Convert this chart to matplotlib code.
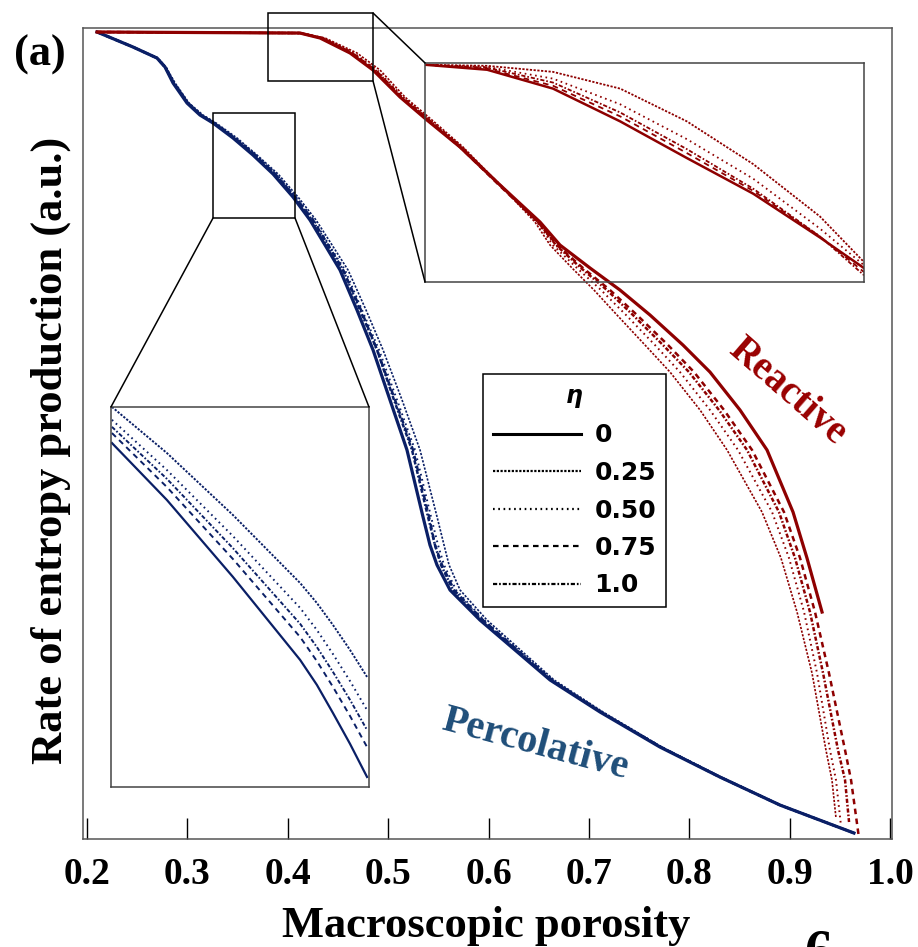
import matplotlib
matplotlib.use('Agg')
import matplotlib.pyplot as plt
from matplotlib.lines import Line2D
from matplotlib.patches import Rectangle, ConnectionPatch

plt.rcParams['font.family'] = ['Liberation Serif', 'DejaVu Serif']
plt.rcParams['font.weight'] = 'bold'
plt.rcParams['lines.scale_dashes'] = False

# ---- data ----
eta_labels = ['0', '0.25', '0.50', '0.75', '1.0']
x_ticks = [0.2, 0.3, 0.4, 0.5, 0.6, 0.7, 0.8, 0.9, 1.0]

# percolative (blue): shared y levels, one x list per eta
blue_y = [0.9951, 0.9766, 0.9630, 0.9519, 0.9322, 0.9075, 0.8927, 0.8829, 0.8644, 0.8434,
          0.8200, 0.7916, 0.7633, 0.7324, 0.7016, 0.6523, 0.6030, 0.5413, 0.4797, 0.3970,
          0.3625, 0.3379, 0.3070, 0.2700, 0.1961, 0.1566, 0.1134, 0.0764, 0.0419, 0.0074]
blue_x_000 = [0.2100, 0.2458, 0.2697, 0.2777, 0.2857, 0.2996, 0.3125, 0.3255, 0.3454, 0.3653,
              0.3853, 0.4052, 0.4221, 0.4371, 0.4520, 0.4689, 0.4849, 0.5018, 0.5187, 0.5347,
              0.5416, 0.5486, 0.5616, 0.5914, 0.6612, 0.7110, 0.7707, 0.8305, 0.8902, 0.9639]
blue_x_025 = [0.2100, 0.2458, 0.2707, 0.2787, 0.2877, 0.3016, 0.3155, 0.3285, 0.3494, 0.3693,
              0.3903, 0.4102, 0.4281, 0.4441, 0.4600, 0.4779, 0.4949, 0.5138, 0.5317, 0.5487,
              0.5556, 0.5606, 0.5716, 0.5984, 0.6652, 0.7140, 0.7727, 0.8315, 0.8912, 0.9639]
blue_x_050 = [0.2100, 0.2458, 0.2697, 0.2787, 0.2867, 0.3006, 0.3145, 0.3275, 0.3474, 0.3683,
              0.3883, 0.4082, 0.4261, 0.4411, 0.4570, 0.4739, 0.4909, 0.5088, 0.5267, 0.5427,
              0.5496, 0.5556, 0.5676, 0.5954, 0.6632, 0.7130, 0.7717, 0.8315, 0.8902, 0.9639]
blue_x_075 = [0.2100, 0.2458, 0.2697, 0.2777, 0.2867, 0.3006, 0.3135, 0.3265, 0.3474, 0.3673,
              0.3873, 0.4072, 0.4251, 0.4401, 0.4550, 0.4729, 0.4889, 0.5068, 0.5247, 0.5407,
              0.5466, 0.5536, 0.5656, 0.5944, 0.6632, 0.7120, 0.7717, 0.8305, 0.8902, 0.9639]
blue_x_100 = [0.2100, 0.2458, 0.2697, 0.2777, 0.2867, 0.3006, 0.3135, 0.3265, 0.3464, 0.3673,
              0.3873, 0.4072, 0.4241, 0.4401, 0.4550, 0.4719, 0.4889, 0.5058, 0.5237, 0.5397,
              0.5466, 0.5526, 0.5646, 0.5934, 0.6622, 0.7120, 0.7717, 0.8305, 0.8902, 0.9639]

# reactive (red)
red_y_000 = [0.9951, 0.9938, 0.9877, 0.9692, 0.9482, 0.9149, 0.8866, 0.8533, 0.8064, 0.7608,
             0.7324, 0.7041, 0.6769, 0.6461, 0.6091, 0.5758, 0.5290, 0.4797, 0.4032, 0.3465,
             0.2799]
red_x_000 = [0.2100, 0.4122, 0.4321, 0.4620, 0.4849, 0.5118, 0.5386, 0.5715, 0.6114, 0.6512,
             0.6711, 0.7010, 0.7309, 0.7608, 0.7936, 0.8205, 0.8504, 0.8773, 0.9032, 0.9171,
             0.9321]
red_y_025 = [0.9951, 0.9938, 0.9877, 0.9692, 0.9482, 0.9149, 0.8866, 0.8533, 0.8064, 0.7608,
             0.7324, 0.7041, 0.6769, 0.6461, 0.6091, 0.5758, 0.5290, 0.4797, 0.4032, 0.3465,
             0.2799, 0.2047, 0.1097, 0.0727, 0.0259]
red_x_025 = [0.2100, 0.4122, 0.4371, 0.4689, 0.4918, 0.5167, 0.5436, 0.5745, 0.6114, 0.6462,
             0.6612, 0.6831, 0.7050, 0.7279, 0.7558, 0.7807, 0.8106, 0.8375, 0.8723, 0.8912,
             0.9072, 0.9221, 0.9360, 0.9420, 0.9460]
red_y_050 = [0.9951, 0.9938, 0.9877, 0.9692, 0.9482, 0.9149, 0.8866, 0.8533, 0.8064, 0.7608,
             0.7324, 0.7041, 0.6769, 0.6461, 0.6091, 0.5758, 0.5290, 0.4797, 0.4032, 0.3465,
             0.2799, 0.2047, 0.1097, 0.0727, 0.0160]
red_x_050 = [0.2100, 0.4122, 0.4351, 0.4659, 0.4888, 0.5147, 0.5416, 0.5735, 0.6114, 0.6482,
             0.6641, 0.6880, 0.7120, 0.7369, 0.7657, 0.7906, 0.8205, 0.8484, 0.8823, 0.8992,
             0.9142, 0.9271, 0.9400, 0.9460, 0.9510]
red_y_075 = [0.9951, 0.9938, 0.9877, 0.9692, 0.9482, 0.9149, 0.8866, 0.8533, 0.8064, 0.7608,
             0.7324, 0.7041, 0.6769, 0.6461, 0.6091, 0.5758, 0.5290, 0.4797, 0.4032, 0.3465,
             0.2799, 0.2047, 0.1097, 0.0727, 0.0012]
red_x_075 = [0.2100, 0.4122, 0.4341, 0.4639, 0.4869, 0.5127, 0.5396, 0.5715, 0.6104, 0.6492,
             0.6681, 0.6940, 0.7209, 0.7478, 0.7787, 0.8046, 0.8345, 0.8624, 0.8942, 0.9102,
             0.9251, 0.9390, 0.9550, 0.9610, 0.9689]
red_y_100 = [0.9951, 0.9938, 0.9877, 0.9692, 0.9482, 0.9149, 0.8866, 0.8533, 0.8064, 0.7608,
             0.7324, 0.7041, 0.6769, 0.6461, 0.6091, 0.5758, 0.5290, 0.4797, 0.4032, 0.3465,
             0.2799, 0.2047, 0.1097, 0.0727, 0.0210]
red_x_100 = [0.2100, 0.4122, 0.4341, 0.4639, 0.4869, 0.5137, 0.5406, 0.5725, 0.6114, 0.6492,
             0.6671, 0.6920, 0.7179, 0.7438, 0.7737, 0.7996, 0.8295, 0.8574, 0.8892, 0.9052,
             0.9201, 0.9331, 0.9480, 0.9550, 0.9590]

# blue inset (zoom of the percolative curves)
binset_x = [0.3258, 0.3432, 0.3641, 0.3854, 0.3907, 0.3958, 0.4012, 0.4066]
binset_y_000 = [0.8829, 0.8635, 0.8373, 0.8090, 0.8005, 0.7909, 0.7804, 0.7691]
binset_y_025 = [0.8952, 0.8795, 0.8584, 0.8352, 0.8284, 0.8209, 0.8124, 0.8032]
binset_y_050 = [0.8908, 0.8737, 0.8512, 0.8267, 0.8192, 0.8110, 0.8018, 0.7919]
binset_y_075 = [0.8863, 0.8679, 0.8434, 0.8168, 0.8086, 0.7998, 0.7899, 0.7793]
binset_y_100 = [0.8884, 0.8707, 0.8471, 0.8213, 0.8134, 0.8049, 0.7954, 0.7851]

# red inset (zoom of the reactive curves near the onset)
rinset_x = [0.3803, 0.3951, 0.4108, 0.4268, 0.4427, 0.4585, 0.4744, 0.4849]
rinset_y_000 = [0.9960, 0.9946, 0.9893, 0.9801, 0.9698, 0.9598, 0.9475, 0.9389]
rinset_y_025 = [0.9960, 0.9957, 0.9940, 0.9893, 0.9801, 0.9681, 0.9534, 0.9406]
rinset_y_050 = [0.9960, 0.9954, 0.9921, 0.9849, 0.9751, 0.9640, 0.9500, 0.9397]
rinset_y_075 = [0.9960, 0.9949, 0.9901, 0.9815, 0.9712, 0.9606, 0.9478, 0.9378]
rinset_y_100 = [0.9960, 0.9952, 0.9910, 0.9826, 0.9723, 0.9612, 0.9478, 0.9369]

# ---- styling ----
BLUE = '#0a1f66'
RED = '#8e0000'
dash = {'0': '-',
        '0.25': (0, (1.6, 1.1)),
        '0.50': (0, (1.2, 2.6)),
        '0.75': (0, (4.0, 3.2)),
        '1.0': (0, (3.0, 1.4, 1.2, 1.4))}
lw_main = {'0': 2.3, '0.25': 1.2, '0.50': 1.4, '0.75': 1.8, '1.0': 1.8}

fig = plt.figure(figsize=(9.18, 9.47), dpi=100)
ax = fig.add_axes([0.0904, 0.1140, 0.8813, 0.8564])

blue_sets = [blue_x_000, blue_x_025, blue_x_050, blue_x_075, blue_x_100]
for lab, bx in zip(eta_labels, blue_sets):
    ax.plot(bx, blue_y, color=BLUE, ls=dash[lab], lw=lw_main[lab])

red_sets = [(red_x_000, red_y_000), (red_x_025, red_y_025), (red_x_050, red_y_050),
            (red_x_075, red_y_075), (red_x_100, red_y_100)]
for lab, (rx, ry) in zip(eta_labels, red_sets):
    ax.plot(rx, ry, color=RED, ls=dash[lab], lw=lw_main[lab])

ax.set_xlim(0.1960, 1.0018)
ax.set_ylim(0, 1)
ax.set_xticks(x_ticks)
ax.set_xticklabels(['%.1f' % t for t in x_ticks])
ax.set_yticks([])
ax.tick_params(axis='x', direction='in', length=15, width=1.0, pad=13,
               labelsize=27, colors='black')
for s in ax.spines.values():
    s.set_color('#555555')
    s.set_linewidth(1.1)

# zoom boxes on main axes
bbox_b = (0.3255, 0.7657, 0.4072 - 0.3255, 0.8952 - 0.7657)
bbox_r = (0.3803, 0.9346, 0.4849 - 0.3803, 1.0185 - 0.9346)
for (x0, y0, w, h) in (bbox_b, bbox_r):
    ax.add_patch(Rectangle((x0, y0), w, h, fill=False, ec='black', lw=1.1,
                           clip_on=False, zorder=5))

# blue inset
axb = fig.add_axes([0.1209, 0.1690, 0.2810, 0.4013], facecolor='none')
for lab, by in zip(eta_labels, [binset_y_000, binset_y_025, binset_y_050,
                                binset_y_075, binset_y_100]):
    axb.plot(binset_x, by, color=BLUE, ls=dash[lab], lw=1.6 if lab == '0' else 1.4)
axb.set_xlim(0.3255, 0.4072)
axb.set_ylim(0.7657, 0.8952)

# red inset
axr = fig.add_axes([0.4630, 0.7022, 0.4782, 0.2313], facecolor='none')
for lab, ry in zip(eta_labels, [rinset_y_000, rinset_y_025, rinset_y_050,
                                rinset_y_075, rinset_y_100]):
    axr.plot(rinset_x, ry, color=RED, ls=dash[lab], lw=1.8 if lab == '0' else 1.3)
axr.set_xlim(0.3803, 0.4849)
axr.set_ylim(0.935, 0.9965)

for a in (axb, axr):
    a.set_xticks([])
    a.set_yticks([])
    for s in a.spines.values():
        s.set_color('#444444')
        s.set_linewidth(1.1)

# connector lines
links = [((bbox_b[0], bbox_b[1]), axb, (0, 1)),
         ((bbox_b[0] + bbox_b[2], bbox_b[1]), axb, (1, 1)),
         ((bbox_r[0] + bbox_r[2], bbox_r[1] + bbox_r[3]), axr, (0, 1)),
         ((bbox_r[0] + bbox_r[2], bbox_r[1]), axr, (0, 0))]
for pa, axi, pb in links:
    con = ConnectionPatch(xyA=pa, coordsA=ax.transData, xyB=pb, coordsB=axi.transAxes,
                          color='black', lw=1.1)
    fig.add_artist(con)

# legend
handles = [Line2D([], [], color='black', ls=dash[lab],
                  lw=2.2 if lab == '0' else 1.6) for lab in eta_labels]
leg = ax.legend(handles, eta_labels, loc='upper left',
                bbox_to_anchor=(483 / 918, 1 - 374 / 947), bbox_transform=fig.transFigure,
                borderaxespad=0, handlelength=3.5, handletextpad=0.55, labelspacing=0.54,
                borderpad=0.4, fancybox=False, framealpha=1, edgecolor='black',
                title='$\\eta$', prop={'family': 'DejaVu Sans', 'weight': 'bold', 'size': 18},
                title_fontproperties={'family': 'DejaVu Sans', 'size': 17})
leg.get_frame().set_linewidth(1.1)

# labels and annotations
fig.text(0.5294, 0.0106, 'Macroscopic porosity', ha='center', va='baseline',
         fontsize=32, fontweight='bold')
fig.text(0.0556, 0.5248, 'Rate of entropy production (a.u.)', rotation=90,
         ha='center', va='center', fontsize=32, fontweight='bold')
fig.text(0.043, 0.9424, '(a)', ha='center', va='center', fontsize=32, fontweight='bold')
fig.text(0.8580, 0.5861, 'Reactive', rotation=-41, rotation_mode='anchor',
         ha='center', va='center', fontsize=28, fontweight='bold', color='#990000')
fig.text(0.5828, 0.2133, 'Percolative', rotation=-15, rotation_mode='anchor',
         ha='center', va='center', fontsize=29, fontweight='bold', color='#1f4e79')
fig.text(0.891, -0.0222, '6', ha='center', va='baseline', fontsize=40)

fig.savefig('out.png', dpi=100)
